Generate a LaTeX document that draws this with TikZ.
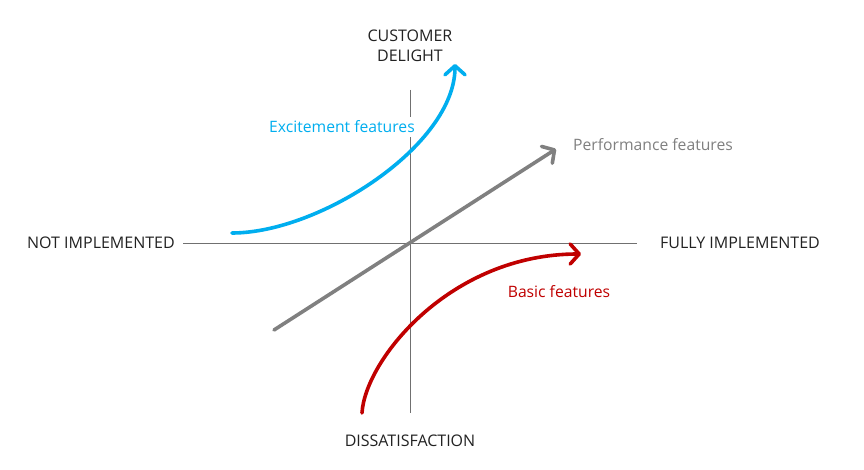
\documentclass[tikz,border=0pt]{standalone}
\usepackage{fontspec}
\setmainfont{Open Sans}
\usetikzlibrary{arrows.meta}
\definecolor{axisgray}{HTML}{707070}
\definecolor{perfgray}{HTML}{808080}
\definecolor{excblue}{HTML}{00AEEF}
\definecolor{basred}{HTML}{C00000}
\definecolor{txt}{HTML}{222222}
\begin{document}
\begin{tikzpicture}[x=1pt,y=-1pt,
  axis/.style={draw=axisgray, line width=0.8pt},
  curve/.style={line width=3.6pt, line cap=round, -{Straight Barb[length=9pt,width=20pt,line width=3.6pt, round]}},
  axlabel/.style={font=\fontsize{16}{20}\selectfont, text=txt, inner sep=0pt, align=center},
  featlabel/.style={font=\fontsize{15.7}{19}\selectfont, inner sep=0pt}]
\useasboundingbox (0,0) rectangle (864,470);
\fill[white] (0,0) rectangle (864,470);
% axes
\coordinate (xl) at (183,243);
\coordinate (xr) at (637,243);
\coordinate (yt) at (410,90);
\coordinate (yb) at (410,413);
\draw[axis] (xl) -- (xr);
\draw[axis] (yt) -- (yb);
% axis labels
\node[axlabel] (top) at (410,46) {CUSTOMER\\DELIGHT};
\node[axlabel] (bot) at (410,441) {DISSATISFACTION};
\node[axlabel, anchor=east] (left) at (175,243) {NOT IMPLEMENTED};
\node[axlabel, anchor=west] (right) at (660,243) {FULLY IMPLEMENTED};
% feature label over axis (white background breaks axis)
\node[featlabel, text=excblue, fill=white, inner ysep=4pt, inner xsep=1pt] (exc) at (342,127) {Excitement features};
% curves
\coordinate (bs) at (232,233);
\coordinate (be) at (455,64);
\draw[curve, excblue] (bs) .. controls (320,233) and (455,145) .. (be);
\coordinate (gs) at (274,330);
\coordinate (ge) at (556,149);
\draw[curve, perfgray] (gs) -- (ge);
\coordinate (rs) at (362,413);
\coordinate (re) at (581,254);
\draw[curve, basred] (rs) .. controls (365,360) and (450,254) .. (re);
% feature labels
\node[featlabel, text=perfgray, anchor=west] (perf) at (573,145) {Performance features};
\node[featlabel, text=basred] (bas) at (559,292) {Basic features};
\end{tikzpicture}
\end{document}
